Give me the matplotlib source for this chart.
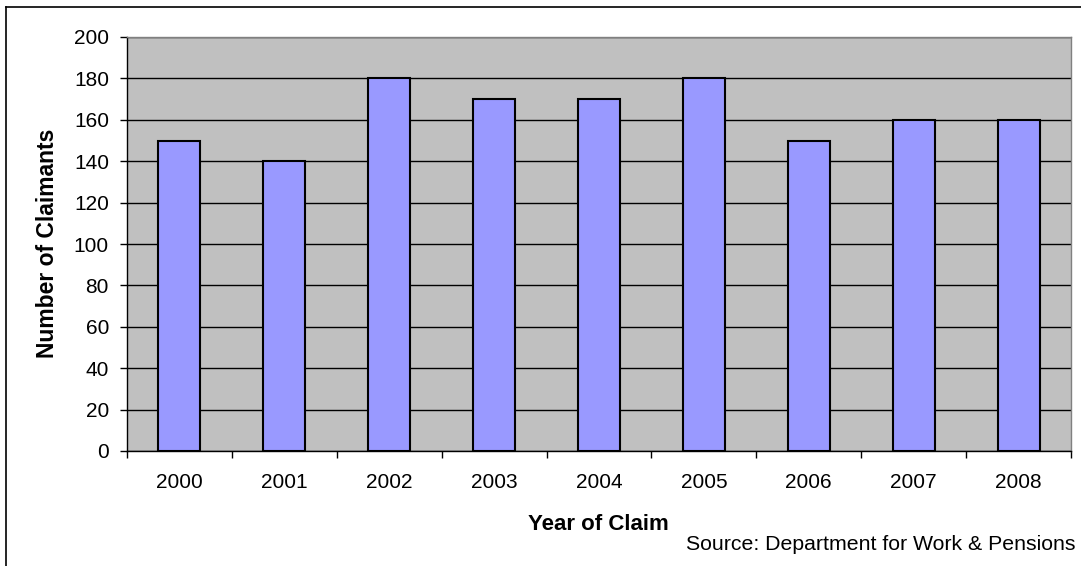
import matplotlib.pyplot as plt
from matplotlib.lines import Line2D

# -------------------------------------------------
# Data
# -------------------------------------------------

years = ["2000", "2001", "2002", "2003", "2004", "2005", "2006", "2007", "2008"]
claimants = [150, 140, 180, 170, 170, 180, 150, 160, 160]
y_ticks = [0, 20, 40, 60, 80, 100, 120, 140, 160, 180, 200]

plt.rcParams["font.family"] = ["Liberation Sans", "DejaVu Sans"]

# -------------------------------------------------
# Plot
# -------------------------------------------------

fig = plt.figure(figsize=(10.81, 5.66), dpi=100)
W, H = 1081, 566
ax = fig.add_axes([127 / W, 1 - 451 / H, (1071 - 127) / W, (451 - 37) / H])

ax.set_facecolor("#C0C0C0")
ax.set_axisbelow(True)
ax.yaxis.grid(True, color="black", linewidth=1)

x = range(len(years))
ax.bar(x, claimants, width=0.4, color="#9999FF", edgecolor="black", linewidth=1.5, zorder=3)

ax.set_xlim(-0.5, len(years) - 0.5)
ax.set_ylim(0, 200)
ax.set_yticks(y_ticks)
ax.set_xticks(list(x))
ax.set_xticklabels(years)
ax.set_xticks([i - 0.5 for i in range(len(years) + 1)], minor=True)

ax.tick_params(axis="y", direction="out", length=5, width=1, labelsize=15, pad=8)
ax.tick_params(axis="x", which="major", length=0, labelsize=15, pad=16)
ax.tick_params(axis="x", which="minor", direction="out", length=5, width=1)

for side in ["top", "right"]:
    ax.spines[side].set_color("#808080")
    ax.spines[side].set_linewidth(1)
for side in ["left", "bottom"]:
    ax.spines[side].set_color("black")
    ax.spines[side].set_linewidth(1)

# axis titles placed in figure coordinates
fig.text(598 / W, 1 - 524 / H, "Year of Claim", fontsize=16, fontweight="bold",
         ha="center", va="center")
fig.text(48 / W, 1 - 243 / H, "Number of Claimants", fontsize=16.5, fontweight="bold",
         ha="center", va="center", rotation=90)

fig.text(1075 / W, 1 - 545 / H, "Source: Department for Work & Pensions",
         fontsize=15.3, ha="right", va="center")

# chart frame (left and top edges visible)
fig.add_artist(Line2D([6 / W, 6 / W], [0, 1 - 7 / H], color="black", linewidth=1.2,
                      transform=fig.transFigure))
fig.add_artist(Line2D([6 / W, 1], [1 - 7 / H, 1 - 7 / H], color="black", linewidth=1.2,
                      transform=fig.transFigure))

plt.savefig("out.png", dpi=100)
plt.close(fig)
